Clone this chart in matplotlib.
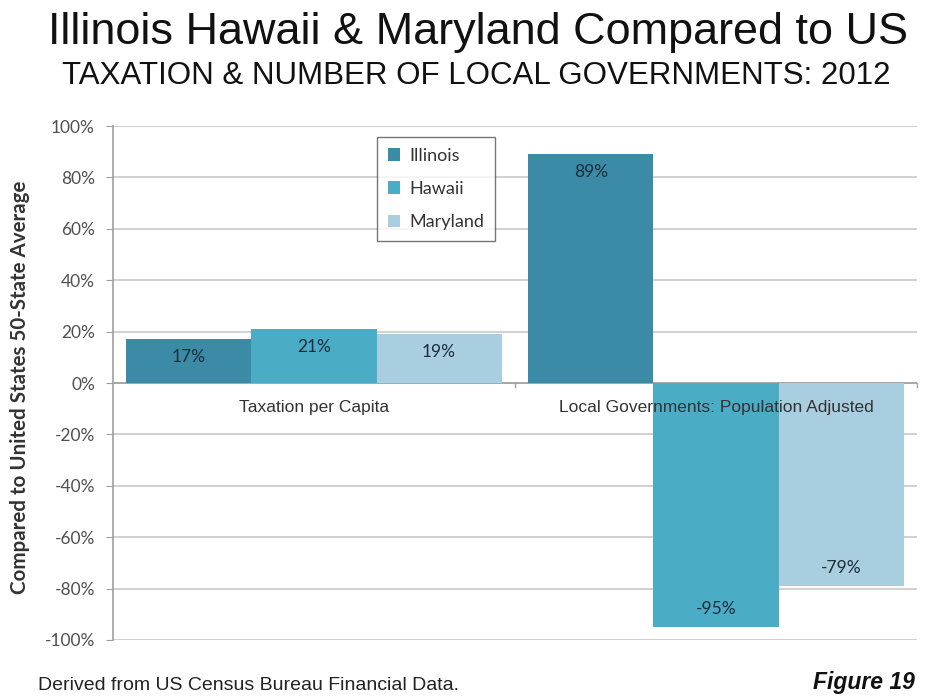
import matplotlib
matplotlib.use("Agg")
import matplotlib.pyplot as plt
from matplotlib import font_manager as fm
import numpy as np

categories = ["Taxation per Capita", "Local Governments: Population Adjusted"]
series_names = ["Illinois", "Hawaii", "Maryland"]
illinois = [0.17, 0.89]
hawaii = [0.21, -0.95]
maryland = [0.19, -0.79]
yticks = [-1.0, -0.8, -0.6, -0.4, -0.2, 0.0, 0.2, 0.4, 0.6, 0.8, 1.0]

colors = ["#3B8BA6", "#4BACC6", "#A9CEDF"]

def pick(names):
    avail = {f.name for f in fm.fontManager.ttflist}
    for n in names:
        if n in avail:
            return n
    return "DejaVu Sans"

arial = pick(["Liberation Sans"])
calibri = pick(["Lato", "Open Sans"])

fig = plt.figure(figsize=(9.42, 6.98), dpi=100)
ax = fig.add_axes([113/942, 1-640/698, (917-113)/942, (640-126)/698])

x = np.arange(len(categories))
w = 0.311
data = [illinois, hawaii, maryland]
for i, (vals, c, name) in enumerate(zip(data, colors, series_names)):
    b = ax.bar(x + (i-1)*w, vals, w, color=c, label=name, zorder=2)
    for rect, v in zip(b, vals):
        off = -13 if v >= 0 else 13
        ax.annotate(f"{round(v*100):d}%", (rect.get_x()+rect.get_width()/2, v),
                    xytext=(0, off), textcoords="offset points",
                    ha="center", va="center", fontsize=12.5, color="#1C2E3C",
                    fontfamily=calibri, zorder=4)

ax.set_xlim(-0.5, 1.5)
ax.set_ylim(-1.0, 1.0)
ax.set_yticks(yticks)
ax.set_yticklabels([f"{round(t*100):d}%" for t in yticks], fontfamily=calibri,
                   fontsize=12.5, color="#505050")
ax.yaxis.grid(True, color="#C8C8C8", linewidth=1.2, zorder=0)
ax.set_axisbelow(True)
ax.tick_params(axis="y", length=5, color="#A0A0A0", pad=8)
ax.set_xticks([])
for s in ["top", "right", "bottom"]:
    ax.spines[s].set_visible(False)
ax.spines["left"].set_color("#A0A0A0")
ax.spines["left"].set_linewidth(1.2)
ax.axhline(0, color="#A0A0A0", linewidth=1.2, zorder=1)
for xb in [0.5, 1.5]:
    ax.plot([xb, xb], [0, -0.015], color="#A0A0A0", lw=1, clip_on=False, zorder=1)

for xi, cat in zip(x, categories):
    ax.text(xi, -0.095, cat, ha="center", va="center", fontsize=12.5,
            fontfamily=arial, color="#333333", zorder=5)

fig.text(20/942, 1-387/698, "Compared to United States 50-State Average",
         rotation=90, ha="center", va="center", fontfamily=calibri,
         fontweight="bold", fontsize=14.8, color="#333333")

leg = ax.legend(loc="upper left", bbox_to_anchor=((377-113)/804, (640-137)/514),
                frameon=True, fancybox=False, edgecolor="#555555",
                prop={"family": calibri, "size": 13}, handlelength=0.7,
                handleheight=0.7, labelspacing=0.95, borderpad=0.6,
                handletextpad=0.5, borderaxespad=0)
leg.get_frame().set_linewidth(1.0)
for t in leg.get_texts():
    t.set_color("#333333")

fig.text(478/942, 1-44/698, "Illinois Hawaii & Maryland Compared to US",
         ha="center", va="baseline", fontsize=32.4, fontfamily=arial, color="#111111")
fig.text(476/942, 1-84/698, "TAXATION & NUMBER OF LOCAL GOVERNMENTS: 2012",
         ha="center", va="baseline", fontsize=22.5, fontfamily=arial, color="#111111")
fig.text(38/942, 1-686/698, "Derived from US Census Bureau Financial Data.",
         ha="left", va="center", fontsize=14, fontfamily=arial, color="#222222")
fig.text(915/942, 1-683/698, "Figure 19", ha="right", va="center", fontsize=16.5,
         fontfamily=arial, fontweight="bold", fontstyle="italic", color="#111111")

fig.savefig("out.png", dpi=100)
